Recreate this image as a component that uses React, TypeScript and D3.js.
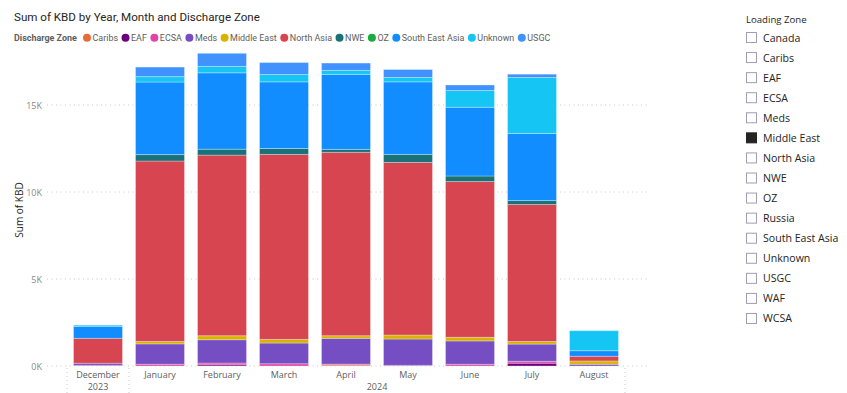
import React from "react";
import * as d3 from "d3";

const months = ["December", "January", "February", "March", "April", "May", "June", "July", "August"];
const yearGroups = [
  { year: "2023", first: "December", last: "December" },
  { year: "2024", first: "January", last: "August" },
];

const zones = ["Caribs", "EAF", "ECSA", "Meds", "Middle East", "North Asia", "NWE", "OZ", "South East Asia", "Unknown", "USGC"];
const zoneColors = ["#E66C37", "#6B007B", "#E044A7", "#744EC2", "#D9B300", "#D64550", "#197278", "#1AAB40", "#118DFF", "#15C6F4", "#4092FF"];

const caribs = [0, 0, 0, 0, 60, 0, 0, 0, 0];
const eaf = [0, 0, 70, 0, 0, 0, 0, 160, 0];
const ecsa = [40, 100, 100, 130, 50, 40, 100, 110, 0];
const meds = [120, 1170, 1340, 1190, 1480, 1510, 1340, 990, 100];
const middleEast = [0, 140, 230, 210, 150, 230, 210, 150, 190];
const northAsia = [1430, 10370, 10380, 10630, 10540, 9920, 8950, 7870, 270];
const nwe = [0, 370, 340, 340, 170, 460, 320, 230, 0];
const oz = [0, 0, 0, 0, 0, 0, 0, 0, 0];
const southEastAsia = [690, 4170, 4390, 3830, 4310, 4170, 3950, 3850, 320];
const unknown = [70, 310, 370, 420, 230, 250, 960, 3220, 1150];
const usgc = [0, 550, 750, 690, 420, 460, 320, 190, 0];

const yTicks = [0, 5000, 10000, 15000];

const loadingZones = ["Canada", "Caribs", "EAF", "ECSA", "Meds", "Middle East", "North Asia", "NWE", "OZ", "Russia", "South East Asia", "Unknown", "USGC", "WAF", "WCSA"];
const selectedLoading = ["Middle East"];

const seriesValues = [caribs, eaf, ecsa, meds, middleEast, northAsia, nwe, oz, southEastAsia, unknown, usgc];

const FONT = "'Segoe UI', 'Open Sans', sans-serif";
const TFONT = "Roboto, 'Open Sans', sans-serif";

function measure(text: string, font: string): number {
  if (typeof document === "undefined") return text.length * 5;
  const c = (measure as any).c || ((measure as any).c = document.createElement("canvas"));
  const ctx = c.getContext("2d");
  ctx.font = font;
  return ctx.measureText(text).width;
}

export default function App() {
  const W = 847, H = 393;
  const x = d3.scaleBand<string>().domain(months).range([67, 625]).paddingInner(0.21).paddingOuter(0.105);
  const y = d3.scaleLinear().domain([0, 15000]).range([366, 105]);

  const rows = months.map((m, i) => {
    const r: any = { month: m };
    zones.forEach((z, k) => (r[z] = seriesValues[k][i]));
    return r;
  });
  const stacked = d3.stack<any>().keys(zones)(rows);
  const color = d3.scaleOrdinal<string, string>().domain(zones).range(zoneColors);

  // legend layout: fit label text between x=95 and x=553
  const baseW = zones.reduce((s, z) => s + measure(z, `10px ${TFONT}`), 0);
  const legendFontSize = Math.min(10.5, (10 * (553 - 95 - 130)) / baseW);
  const legendFont = `${legendFontSize}px ${TFONT}`;
  let lx = 87;
  const legendItems = zones.map((z) => {
    const tw = measure(z, legendFont);
    const item = { z, cx: lx, tx: lx + 5.5 };
    lx = lx + 5.5 + tw + 7.5;
    return item;
  });

  const step = x.step();
  const bandStart = (m: string) => (x(m) as number) - step * x.paddingInner() / 2;

  return (
    <div style={{ position: "fixed", left: 0, top: 0, width: W, height: H, background: "#fff" }}>
      <svg width={W} height={H} style={{ display: "block", fontFamily: FONT }}>
        <text x={14} y={21} fontSize={11.6} fontFamily={TFONT} fill="#252423">Sum of KBD by Year, Month and Discharge Zone</text>

        <text x={14} y={41} fontSize={legendFontSize} fontWeight="bold" fontFamily={TFONT} fill="#605E5C">Discharge Zone</text>
        {legendItems.map((it) => (
          <g key={it.z}>
            <circle cx={it.cx} cy={37.7} r={4} fill={color(it.z)} />
            <text x={it.tx} y={41} fontSize={legendFontSize} fontFamily={TFONT} fill="#605E5C">{it.z}</text>
          </g>
        ))}

        {yTicks.map((t) => (
          <g key={t}>
            <line x1={47} x2={648} y1={y(t)} y2={y(t)} stroke="#C8C8C8" strokeDasharray="1,3.5" />
            <text x={42} y={y(t) + 3.5} fontSize={9} textAnchor="end" fill="#8A8886">{t / 1000 + "K"}</text>
          </g>
        ))}

        <text transform={`translate(23,210) rotate(-90)`} textAnchor="middle" fontSize={10} fill="#252423">Sum of KBD</text>

        {stacked.map((s) => (
          <g key={s.key} fill={color(s.key)}>
            {s.map((d, i) => {
              const h = y(d[0]) - y(d[1]);
              if (h <= 0) return null;
              return (
                <rect key={i} x={x(months[i])} y={y(d[1])} width={x.bandwidth()} height={h}
                  stroke="#ffffff" strokeOpacity={0.3} strokeWidth={1} />
              );
            })}
          </g>
        ))}

        {months.map((m) => (
          <text key={m} x={(x(m) as number) + x.bandwidth() / 2} y={378} fontSize={9} textAnchor="middle" fill="#605E5C">{m}</text>
        ))}

        {yearGroups.map((g) => {
          const a = bandStart(g.first);
          const b = bandStart(g.last) + step;
          return (
            <g key={g.year}>
              <text x={(a + b) / 2} y={390} fontSize={9} textAnchor="middle" fill="#605E5C">{g.year}</text>
              <line x1={a} x2={a} y1={368} y2={393} stroke="#C8C8C8" strokeDasharray="1,3" />
              {g === yearGroups[yearGroups.length - 1] && (
                <line x1={b} x2={b} y1={368} y2={393} stroke="#C8C8C8" strokeDasharray="1,3" />
              )}
            </g>
          );
        })}

        <text x={746} y={23} fontSize={9.6} fill="#252423">Loading Zone</text>
        {loadingZones.map((z, i) => {
          const cy = 37.5 + i * 20.07;
          const sel = selectedLoading.includes(z);
          return (
            <g key={z}>
              <rect x={746.5} y={cy - 5} width={10} height={10} fill={sel ? "#252423" : "none"} stroke={sel ? "#252423" : "#A19DB2"} strokeWidth={1} />
              <text x={763} y={cy + 4} fontSize={10.6} fill="#252423">{z}</text>
            </g>
          );
        })}
      </svg>
    </div>
  );
}
